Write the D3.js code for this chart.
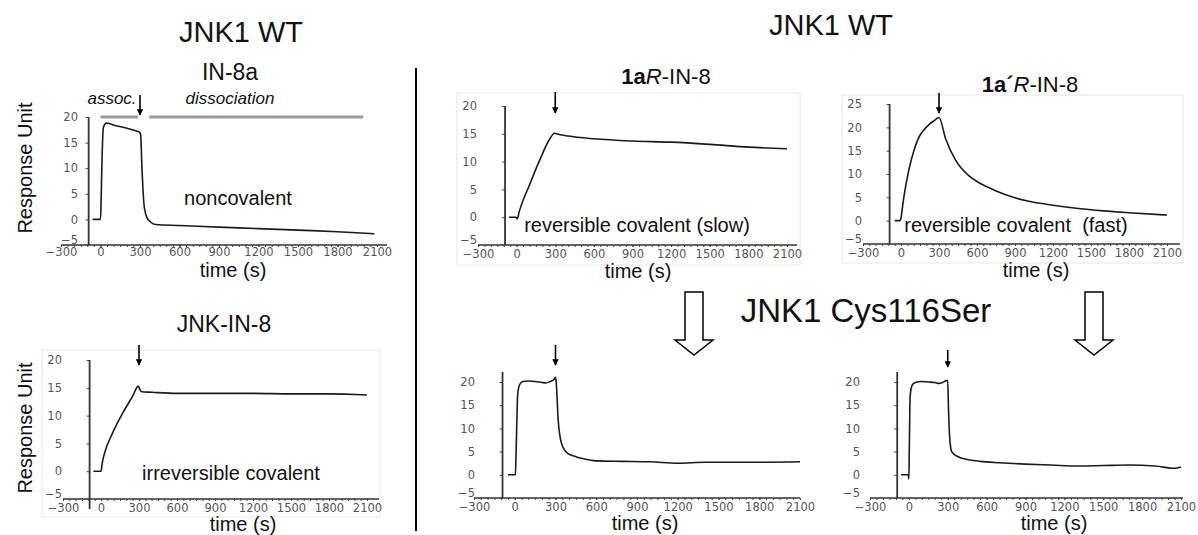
<!DOCTYPE html>
<html>
<head>
<meta charset="utf-8">
<script src="https://cdn.jsdelivr.net/npm/d3@7"></script>
<style>
  body { margin: 0; background: #fff; }
  text { font-family: "Liberation Sans", Arial, sans-serif; fill: #111; }
  .tick text { font-family: "DejaVu Sans", sans-serif; font-size: 11.5px; fill: #555; }
</style>
</head>
<body>
<div id="chart"></div>
<script>
// time axis ticks (s)
const xTicks = [-300, 0, 300, 600, 900, 1200, 1500, 1800, 2100]
const yTicks20 = [-5, 0, 5, 10, 15, 20]
const yTicks25 = [-5, 0, 5, 10, 15, 20, 25]

// JNK1 WT + IN-8a (noncovalent)
const in8aTime = [-60, 0, 5, 10, 22, 45, 120, 200, 255, 292, 300, 305, 315, 330, 350, 380, 420, 600, 900, 1200, 1500, 1800, 2080]
const in8aRU   = [0, 0, 4, 10, 18, 18.8, 18.3, 17.8, 17.4, 17.1, 16.9, 16.5, 10, 3, 0.5, -0.5, -1.0, -1.2, -1.5, -1.8, -2.1, -2.4, -2.8]

// JNK1 WT + JNK-IN-8 (irreversible covalent)
const jnkin8Time = [-60, 0, 10, 25, 90, 170, 250, 295, 305, 320, 400, 600, 900, 1200, 1500, 1800, 2100]
const jnkin8RU   = [0, 0, 1.5, 3, 6.8, 10.4, 13.5, 15.3, 14.8, 14.3, 14.2, 14.0, 14.0, 14.0, 13.9, 13.9, 13.7]

// JNK1 WT + 1aR-IN-8 (reversible covalent, slow)
const r1aTime = [-60, -5, 5, 20, 100, 180, 250, 295, 310, 400, 600, 900, 1200, 1500, 1800, 2100]
const r1aRU   = [0, 0, -0.3, 1, 5.8, 10.3, 13.8, 15.1, 15.0, 14.6, 14.1, 13.7, 13.5, 13.1, 12.6, 12.3]

// JNK1 WT + 1a'R-IN-8 (reversible covalent, fast)
const r1apTime = [-50, -10, 0, 5, 24, 63, 103, 142, 182, 221, 260, 300, 353, 432, 537, 600, 700, 800, 900, 1000, 1200, 1400, 1600, 1800, 2100]
const r1apRU   = [0, 0, 0.5, 1.5, 5.3, 11, 15.1, 17.9, 19.5, 20.6, 21.4, 22.1, 17.5, 12.9, 9.6, 8.4, 7.0, 5.8, 4.9, 4.2, 3.3, 2.6, 2.1, 1.7, 1.2]

// JNK1 Cys116Ser + 1aR-IN-8
const mutSlowTime = [-50, 5, 10, 22, 37, 60, 100, 150, 200, 230, 260, 290, 300, 305, 320, 345, 390, 450, 500, 600, 800, 1000, 1200, 1400, 1600, 1800, 2100]
const mutSlowRU   = [0, 0, 5, 17.5, 19.5, 20.1, 20.2, 20.1, 19.9, 19.8, 20.1, 20.6, 21, 20, 11.7, 6.7, 4.6, 3.9, 3.5, 3.0, 2.9, 2.8, 2.5, 2.7, 2.7, 2.7, 2.8]

// JNK1 Cys116Ser + 1a'R-IN-8
const mutFastTime = [-60, -5, 0, 3, 10, 25, 50, 100, 150, 200, 230, 260, 290, 300, 305, 315, 330, 380, 450, 550, 700, 900, 1100, 1300, 1500, 1700, 1900, 2050, 2100]
const mutFastRU   = [0, 0, -0.9, 5, 17, 19.3, 19.9, 20.1, 20, 19.9, 19.7, 19.9, 20.3, 20.3, 15, 8, 5, 3.9, 3.3, 2.9, 2.6, 2.3, 2.1, 1.9, 2.0, 2.1, 1.9, 1.4, 1.7]

// phases of the binding experiment (s)
const phaseNames = ["assoc.", "dissociation"]
const phaseFrom = [0, 370]
const phaseTo = [285, 1995]

// layout of each panel
const panels = [
  {time: in8aTime, ru: in8aRU, yTicks: yTicks20, xr: [61, 377], yr: [245, 117], labRight: 78,
   title: [["IN-8a", ""]], tx: 230, ty: 80, tsize: 23, note: "noncovalent", nx: 238, ny: 205,
   timeX: 233, timeY: 277, ylabel: 168, axisTail: 10, yExtra: 0, yTop: 0, arrow: [95, 115], pad: 1},
  {time: jnkin8Time, ru: jnkin8RU, yTicks: yTicks20, xr: [63, 367], yr: [499, 360], labRight: 62,
   title: [["JNK-IN-8", ""]], tx: 224, ty: 332, tsize: 23, note: "irreversible covalent", nx: 231, ny: 480,
   timeX: 243, timeY: 531, ylabel: 428, axisTail: 12, yExtra: 10, yTop: 0, arrow: [345, 365], pad: 3,
   box: [42, 350, 380, 517]},
  {time: r1aTime, ru: r1aRU, yTicks: yTicks20, xr: [478, 787], yr: [245, 106], labRight: 477,
   title: [["1a", "bold"], ["R", "italic"], ["-IN-8", ""]], tx: 666, ty: 84, tsize: 22,
   note: "reversible covalent (slow)", nx: 637, ny: 232, timeX: 638, timeY: 278, axisTail: 10, yExtra: 0,
   yTop: 0, arrow: [92, 113], pad: 3, box: [457, 93, 800, 265]},
  {time: r1apTime, ru: r1apRU, yTicks: yTicks25, xr: [863, 1167], yr: [244, 104], labRight: 862,
   title: [["1a´", "bold"], ["R", "italic"], ["-IN-8", ""]], tx: 1030, ty: 92, tsize: 22,
   note: "reversible covalent  (fast)", nx: 1016, ny: 232, timeX: 1036, timeY: 277, axisTail: 13, yExtra: 0,
   yTop: 0, arrow: [93, 113], pad: 3, box: [842, 95, 1183, 263]},
  {time: mutSlowTime, ru: mutSlowRU, yTicks: yTicks20, xr: [474, 800], yr: [498, 382], labRight: 475,
   timeX: 645, timeY: 530, axisTail: 0, yExtra: 0, yTop: 10, arrow: [345, 365], pad: 3},
  {time: mutFastTime, ru: mutFastRU, yTicks: yTicks20, xr: [870, 1181], yr: [498, 382], labRight: 860,
   timeX: 1054, timeY: 530, axisTail: 2, yExtra: 0, yTop: 10, arrow: [350, 367], pad: 3}
]

const svg = d3.select("#chart").append("svg")
  .attr("width", 1198)
  .attr("height", 535)

svg.append("defs").append("marker")
  .attr("id", "head")
  .attr("viewBox", "0 0 10 10")
  .attr("refX", 9).attr("refY", 5)
  .attr("markerWidth", 4).attr("markerHeight", 4)
  .attr("markerUnits", "strokeWidth")
  .attr("orient", "auto")
  .append("path").attr("d", "M0,0 L10,5 L0,10 z").attr("fill", "#000")

const fmt = d3.format("d")

const drawPanel = p => {
  const g = svg.append("g")
  const yMin = p.yTicks[0], yMax = p.yTicks[p.yTicks.length - 1]
  const x = d3.scaleLinear().domain([-300, 2100]).range(p.xr)
  const y = d3.scaleLinear().domain([yMin, yMax]).range(p.yr)
  const yAxisX = x(-90)

  if (p.box) {
    g.append("rect")
      .attr("x", p.box[0]).attr("y", p.box[1])
      .attr("width", p.box[2] - p.box[0]).attr("height", p.box[3] - p.box[1])
      .attr("fill", "none").attr("stroke", "#e6e6e6").attr("stroke-width", 1)
  }

  // minor ticks on time axis
  g.append("g")
    .attr("transform", `translate(0,${y(yMin)})`)
    .call(d3.axisBottom(x).tickValues(d3.range(-300, 2101, 50)).tickSize(2).tickFormat(""))
    .call(a => a.select(".domain").remove())
    .selectAll("line").attr("stroke", "#444")

  const xa = g.append("g")
    .attr("transform", `translate(0,${y(yMin)})`)
    .call(d3.axisBottom(x).tickValues(xTicks).tickSize(2).tickPadding(p.pad).tickFormat(fmt))
  xa.select(".domain").remove()
  xa.selectAll("line").attr("stroke", "#444")
  xa.selectAll("text").attr("dy", "0.72em")
  xa.append("line")
    .attr("x1", p.xr[0]).attr("x2", p.xr[1] + p.axisTail)
    .attr("stroke", "#333").attr("stroke-width", 1.6)

  const ya = g.append("g")
    .attr("transform", `translate(${yAxisX},0)`)
    .call(d3.axisLeft(y).tickValues(p.yTicks).tickSize(3).tickFormat(fmt))
  ya.select(".domain").remove()
  ya.selectAll("line").attr("stroke", "#444")
  ya.selectAll("text").attr("x", p.labRight - yAxisX).attr("dy", "0.32em")
  ya.selectAll(".tick").filter(d => d === yMin).select("text").attr("dy", "-0.1em")
  ya.append("line")
    .attr("y1", y(yMax) - p.yTop).attr("y2", y(yMin) + p.yExtra)
    .attr("stroke", "#333").attr("stroke-width", 1.8)

  const line = d3.line()
    .x((d, i) => x(p.time[i]))
    .y(d => y(d))
    .curve(d3.curveMonotoneX)
  g.append("path")
    .attr("d", line(p.ru))
    .attr("fill", "none").attr("stroke", "#1a1a1a").attr("stroke-width", 1.6)

  // end of association marker
  const ax = x(300)
  g.append("line")
    .attr("x1", ax).attr("x2", ax)
    .attr("y1", p.arrow[0]).attr("y2", p.arrow[1])
    .attr("stroke", "#000").attr("stroke-width", 1.6)
    .attr("marker-end", "url(#head)")

  if (p.title) {
    const t = g.append("text")
      .attr("x", p.tx).attr("y", p.ty)
      .attr("text-anchor", "middle")
      .style("font-size", p.tsize + "px")
    p.title.forEach(s => {
      t.append("tspan").text(s[0])
        .style("font-weight", s[1] === "bold" ? "bold" : null)
        .style("font-style", s[1] === "italic" ? "italic" : null)
    })
  }
  if (p.note) {
    g.append("text")
      .attr("x", p.nx).attr("y", p.ny)
      .attr("text-anchor", "middle")
      .style("font-size", "20px").style("white-space", "pre")
      .text(p.note)
  }
  g.append("text")
    .attr("x", p.timeX).attr("y", p.timeY)
    .attr("text-anchor", "middle")
    .style("font-size", "20px")
    .text("time (s)")
  if (p.ylabel) {
    g.append("text")
      .attr("transform", `translate(32,${p.ylabel}) rotate(-90)`)
      .attr("text-anchor", "middle")
      .style("font-size", "20px")
      .text("Response Unit")
  }
  return x
}

const xs = panels.map(drawPanel)

// association / dissociation bars on first panel
const x0 = xs[0]
const phaseLabelX = [112, 230]
phaseNames.forEach((name, i) => {
  svg.append("line")
    .attr("x1", x0(phaseFrom[i])).attr("x2", x0(phaseTo[i]))
    .attr("y1", 117).attr("y2", 117)
    .attr("stroke", "#9a9a9a").attr("stroke-width", 3)
  svg.append("text")
    .attr("x", phaseLabelX[i]).attr("y", 104)
    .attr("text-anchor", "middle")
    .style("font-size", "17px").style("font-style", "italic")
    .text(name)
})

// headings
svg.append("text").attr("x", 241).attr("y", 42).attr("text-anchor", "middle")
  .style("font-size", "29px").text("JNK1 WT")
svg.append("text").attr("x", 831).attr("y", 35).attr("text-anchor", "middle")
  .style("font-size", "29px").text("JNK1 WT")
svg.append("text").attr("x", 866).attr("y", 322).attr("text-anchor", "middle")
  .style("font-size", "33px").text("JNK1 Cys116Ser")

// divider
svg.append("line")
  .attr("x1", 416).attr("x2", 416).attr("y1", 68).attr("y2", 531)
  .attr("stroke", "#000").attr("stroke-width", 2)

// hollow arrows WT -> mutant
const bigArrow = cx => {
  const pts = [[cx - 9, 292], [cx + 9, 292], [cx + 9, 340], [cx + 19, 340], [cx, 355], [cx - 19, 340], [cx - 9, 340]]
  svg.append("polygon")
    .attr("points", pts.map(d => d.join(",")).join(" "))
    .attr("fill", "#fff").attr("stroke", "#000").attr("stroke-width", 1.5)
}
bigArrow(694)
bigArrow(1094)
</script>
</body>
</html>
